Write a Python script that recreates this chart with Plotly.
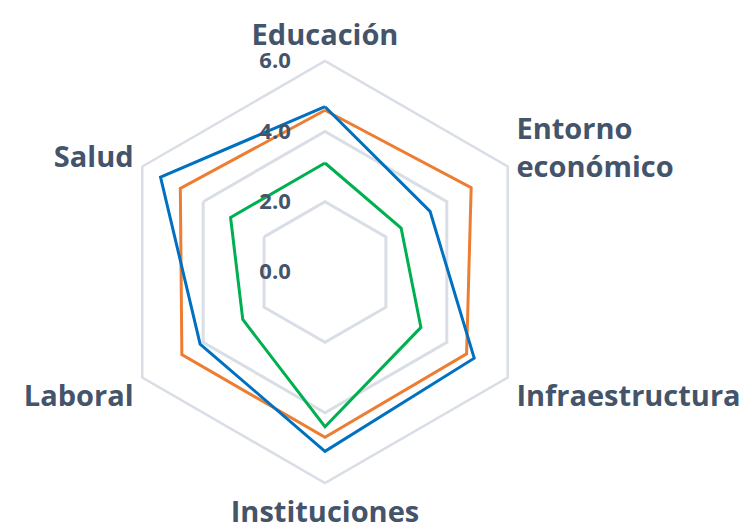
import plotly.graph_objects as go

# Dimensiones del índice (orden horario empezando arriba)
categorias = ['Educación', 'Entorno económico', 'Infraestructura',
              'Instituciones', 'Laboral', 'Salud']
etiquetas = ['Educación', 'Entorno<br>económico', 'Infraestructura',
             'Instituciones', 'Laboral', 'Salud']

serie_azul = [4.7, 3.45, 4.9, 5.1, 4.1, 5.4]
serie_naranja = [4.6, 4.8, 4.65, 4.7, 4.7, 4.75]
serie_verde = [3.1, 2.5, 3.15, 4.4, 2.7, 3.1]

ticks_radiales = [0, 2, 4, 6]

COLORES = {
    'azul': '#0070C0',
    'naranja': '#ED7D31',
    'verde': '#00B050',
    'texto': '#44546A',
    'rejilla': '#D9DEE6',
}

fig = go.Figure()

for valores, color in [(serie_naranja, COLORES['naranja']),
                       (serie_verde, COLORES['verde']),
                       (serie_azul, COLORES['azul'])]:
    fig.add_trace(go.Scatterpolar(
        r=valores + valores[:1],
        theta=categorias + categorias[:1],
        mode='lines',
        line=dict(color=color, width=3),
        showlegend=False,
    ))

fig.update_layout(
    width=747,
    height=529,
    margin=dict(l=0, r=0, t=0, b=0),
    paper_bgcolor='white',
    plot_bgcolor='white',
    font=dict(family='Open Sans', color=COLORES['texto']),
    polar=dict(
        domain=dict(x=[0.1419, 0.7068], y=[0.1020, 0.8998]),
        gridshape='linear',
        bgcolor='white',
        angularaxis=dict(
            direction='clockwise',
            rotation=90,
            tickvals=categorias,
            ticktext=etiquetas,
            showgrid=False,
            showline=True,
            linecolor=COLORES['rejilla'],
            linewidth=2.5,
            ticks='outside',
            ticklen=3,
            tickcolor='rgba(0,0,0,0)',
            tickfont=dict(size=29, family='Open Sans', weight='bold',
                          color=COLORES['texto']),
        ),
        radialaxis=dict(
            range=[0, 6],
            angle=90,
            tickangle=90,
            tickvals=ticks_radiales,
            tickformat='.1f',
            showline=False,
            gridcolor=COLORES['rejilla'],
            gridwidth=2.5,
            ticks='outside',
            ticklen=26,
            tickcolor='rgba(0,0,0,0)',
            side='counterclockwise',
            tickfont=dict(size=22, family='Open Sans', weight='bold',
                          color=COLORES['texto']),
        ),
    ),
)

fig.write_html("out.html")
